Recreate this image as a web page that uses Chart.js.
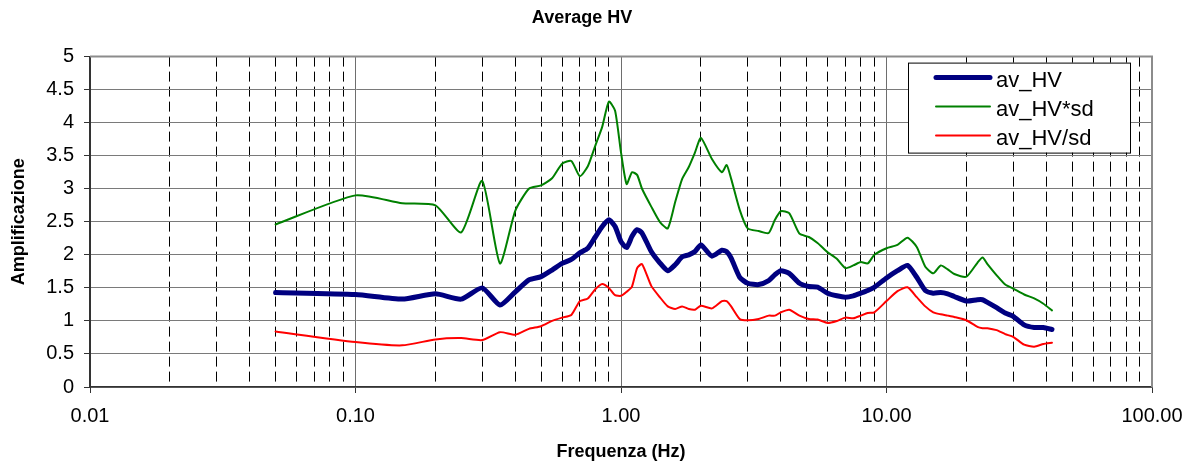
<!DOCTYPE html>
<html>
<head>
<meta charset="utf-8">
<script src="https://cdn.jsdelivr.net/npm/chart.js@4.4.0/dist/chart.umd.min.js"></script>
<style>
html,body{margin:0;padding:0;background:#fff;}
#wrap{width:1194px;height:466px;position:relative;}
</style>
</head>
<body>
<div id="wrap"><canvas id="c"></canvas></div>
<script>
// ---- data ----
const freqs = [0.05,0.1,0.15,0.2,0.25,0.3,0.35,0.4,0.45,0.5,0.55,0.6,0.65,0.7,0.75,0.8,0.85,0.9,0.95,1.0,
  1.05,1.1,1.15,1.2,1.3,1.4,1.5,1.6,1.7,1.8,1.9,2.0,2.2,2.4,2.5,2.6,2.8,3.0,3.3,3.6,
  3.8,4.0,4.3,4.7,5.1,5.5,6.0,6.5,7.0,7.5,8.0,8.5,9.0,10,11,12,13,14,15,16,
  17,18,20,22,23,24,26,28,30,33,36,39,42];
const avHV = [1.43,1.40,1.33,1.41,1.33,1.50,1.24,1.44,1.62,1.67,1.77,1.87,1.93,2.03,2.10,2.27,2.43,2.53,2.43,2.20,
  2.11,2.28,2.38,2.33,2.05,1.88,1.76,1.85,1.97,2.00,2.05,2.15,1.98,2.07,2.05,1.95,1.66,1.57,1.55,1.61,
  1.70,1.76,1.72,1.57,1.52,1.51,1.42,1.38,1.36,1.38,1.42,1.46,1.51,1.65,1.76,1.84,1.66,1.46,1.42,1.43,
  1.41,1.37,1.30,1.32,1.32,1.28,1.20,1.12,1.07,0.94,0.90,0.90,0.87];
const avHVxSd = [2.46,2.90,2.78,2.75,2.34,3.12,1.87,2.67,3.00,3.05,3.16,3.38,3.42,3.19,3.34,3.65,3.94,4.32,4.18,3.55,
  3.07,3.25,3.21,3.00,2.73,2.50,2.40,2.80,3.15,3.33,3.55,3.77,3.45,3.25,3.36,3.15,2.68,2.40,2.36,2.33,
  2.53,2.66,2.63,2.32,2.27,2.18,2.04,1.94,1.80,1.84,1.89,1.87,2.00,2.10,2.15,2.26,2.12,1.82,1.72,1.84,
  1.78,1.71,1.67,1.88,1.96,1.86,1.69,1.55,1.49,1.40,1.34,1.26,1.16];
const avHVdivSd = [0.84,0.68,0.63,0.72,0.74,0.71,0.83,0.79,0.88,0.92,1.00,1.05,1.09,1.30,1.34,1.48,1.56,1.50,1.39,1.38,
  1.44,1.52,1.80,1.86,1.53,1.36,1.22,1.18,1.22,1.18,1.17,1.23,1.19,1.30,1.30,1.22,1.03,1.01,1.03,1.08,
  1.08,1.13,1.17,1.08,1.03,1.02,0.97,1.00,1.05,1.04,1.08,1.12,1.13,1.30,1.45,1.51,1.36,1.22,1.13,1.10,
  1.08,1.06,1.01,0.91,0.89,0.89,0.86,0.80,0.76,0.64,0.61,0.65,0.67];
const seriesNames = ['av_HV','av_HV*sd','av_HV/sd'];
const xMajorTicks = [0.01,0.1,1,10,100];
const xTickLabels = ['0.01','0.10','1.00','10.00','100.00'];
const yTickValues = [0,0.5,1,1.5,2,2.5,3,3.5,4,4.5,5];
const yTickLabels = ['0','0.5','1','1.5','2','2.5','3','3.5','4','4.5','5'];
const chartTitle = 'Average HV';
const xTitle = 'Frequenza (Hz)';
const yTitle = 'Amplificazione';

// minor (dashed) grid positions: 2..9 within each decade
const minorGrid = [];
xMajorTicks.forEach((m, i) => {
  if (i < xMajorTicks.length - 1) {
    for (let k = 2; k <= 9; k++) minorGrid.push(+(m * k).toPrecision(3));
  }
});
const majorIndex = v => xMajorTicks.findIndex(m => Math.abs(v / m - 1) < 1e-6);
const yIndex = v => yTickValues.findIndex(t => Math.abs(t - v) < 1e-6);

Chart.defaults.font.family = "'Liberation Sans', Arial, sans-serif";
Chart.defaults.color = '#000';

const plotBorder = {
  id: 'plotBorder',
  beforeDatasetsDraw(chart) {
    const {ctx, chartArea: a} = chart;
    ctx.save();
    ctx.strokeStyle = '#8c8c8c';
    ctx.lineWidth = 2;
    ctx.beginPath();
    ctx.moveTo(a.left, a.top);
    ctx.lineTo(a.right, a.top);
    ctx.lineTo(a.right, a.bottom);
    ctx.stroke();
    ctx.restore();
  }
};

const legendBox = {
  id: 'legendBox',
  afterDraw(chart) {
    const {ctx, chartArea: a} = chart;
    const w = 222, h = 90;
    const left = a.right - 22 - w, top = a.top + 6;
    ctx.save();
    ctx.fillStyle = '#fff';
    ctx.fillRect(left, top, w, h);
    ctx.strokeStyle = '#000';
    ctx.lineWidth = 1;
    ctx.strokeRect(left + 0.5, top + 0.5, w, h);
    ctx.font = "22px 'Liberation Sans', Arial, sans-serif";
    ctx.textBaseline = 'middle';
    ctx.textAlign = 'left';
    chart.data.datasets.forEach((ds, i) => {
      const y = top + 15 + i * 29;
      ctx.strokeStyle = ds.borderColor;
      ctx.lineWidth = ds.borderWidth;
      ctx.lineCap = 'round';
      ctx.beginPath();
      ctx.moveTo(left + 28, y);
      ctx.lineTo(left + 82, y);
      ctx.stroke();
      ctx.fillStyle = '#000';
      ctx.fillText(ds.label, left + 88, y + 3);
    });
    ctx.restore();
  }
};

const mk = arr => freqs.map((f, i) => ({x: f, y: arr[i]}));

new Chart(document.getElementById('c'), {
  type: 'line',
  data: {
    datasets: [
      {label: seriesNames[0], data: mk(avHV), borderColor: '#000080', borderWidth: 5},
      {label: seriesNames[1], data: mk(avHVxSd), borderColor: '#008000', borderWidth: 2},
      {label: seriesNames[2], data: mk(avHVdivSd), borderColor: '#ff0000', borderWidth: 2}
    ]
  },
  options: {
    responsive: true,
    maintainAspectRatio: false,
    animation: false,
    layout: {padding: {left: 0, right: 30, top: 0, bottom: 0}},
    elements: {
      point: {radius: 0, hoverRadius: 0},
      line: {tension: 0.2, fill: false, borderCapStyle: 'round', borderJoinStyle: 'round'}
    },
    plugins: {
      legend: {display: false},
      tooltip: {enabled: false},
      title: {
        display: true, text: chartTitle, color: '#000',
        font: {size: 18, weight: 'bold'},
        padding: {top: 7, bottom: 28}
      }
    },
    scales: {
      x: {
        type: 'logarithmic', min: 0.01, max: 100, position: 'bottom',
        afterBuildTicks: s => { s.ticks = xMajorTicks.map(v => ({value: v, major: true})); },
        afterFit: s => { s.height = 79; s.paddingLeft = 0; s.paddingRight = 42; },
        grid: {color: '#6e6e6e', lineWidth: 1, drawTicks: true, tickLength: 6, tickColor: '#333'},
        border: {display: true, color: '#333', width: 1.5},
        ticks: {
          autoSkip: false, maxRotation: 0, minRotation: 0, padding: 11,
          font: {size: 20}, color: '#000',
          callback: v => { const i = majorIndex(v); return i >= 0 ? xTickLabels[i] : ''; }
        },
        title: {display: true, text: xTitle, color: '#000', font: {size: 18, weight: 'bold'}, padding: {top: 0, bottom: 3}}
      },
      xMinor: {
        type: 'logarithmic', min: 0.01, max: 100, position: 'bottom',
        afterBuildTicks: s => { s.ticks = minorGrid.map(v => ({value: v})); },
        afterFit: s => { s.height = 0; s.paddingLeft = 0; s.paddingRight = 0; },
        grid: {color: '#000', lineWidth: 1, drawTicks: false},
        border: {display: false, dash: [10, 5]},
        ticks: {display: false}
      },
      y: {
        min: 0, max: 5,
        afterBuildTicks: s => { s.ticks = yTickValues.map(v => ({value: v})); },
        afterFit: s => { s.width = 90; s.paddingTop = 0; s.paddingBottom = 0; },
        ticks: {padding: 10, font: {size: 20}, color: '#000',
          callback: v => { const i = yIndex(v); return i >= 0 ? yTickLabels[i] : ''; }},
        grid: {color: '#7a7a7a', lineWidth: 1, tickLength: 6, tickColor: '#333'},
        border: {color: '#333', width: 2},
        title: {display: true, text: yTitle, color: '#000', font: {size: 18, weight: 'bold'}, padding: {top: 8, bottom: 0}}
      }
    }
  },
  plugins: [plotBorder, legendBox]
});
</script>
</body>
</html>
